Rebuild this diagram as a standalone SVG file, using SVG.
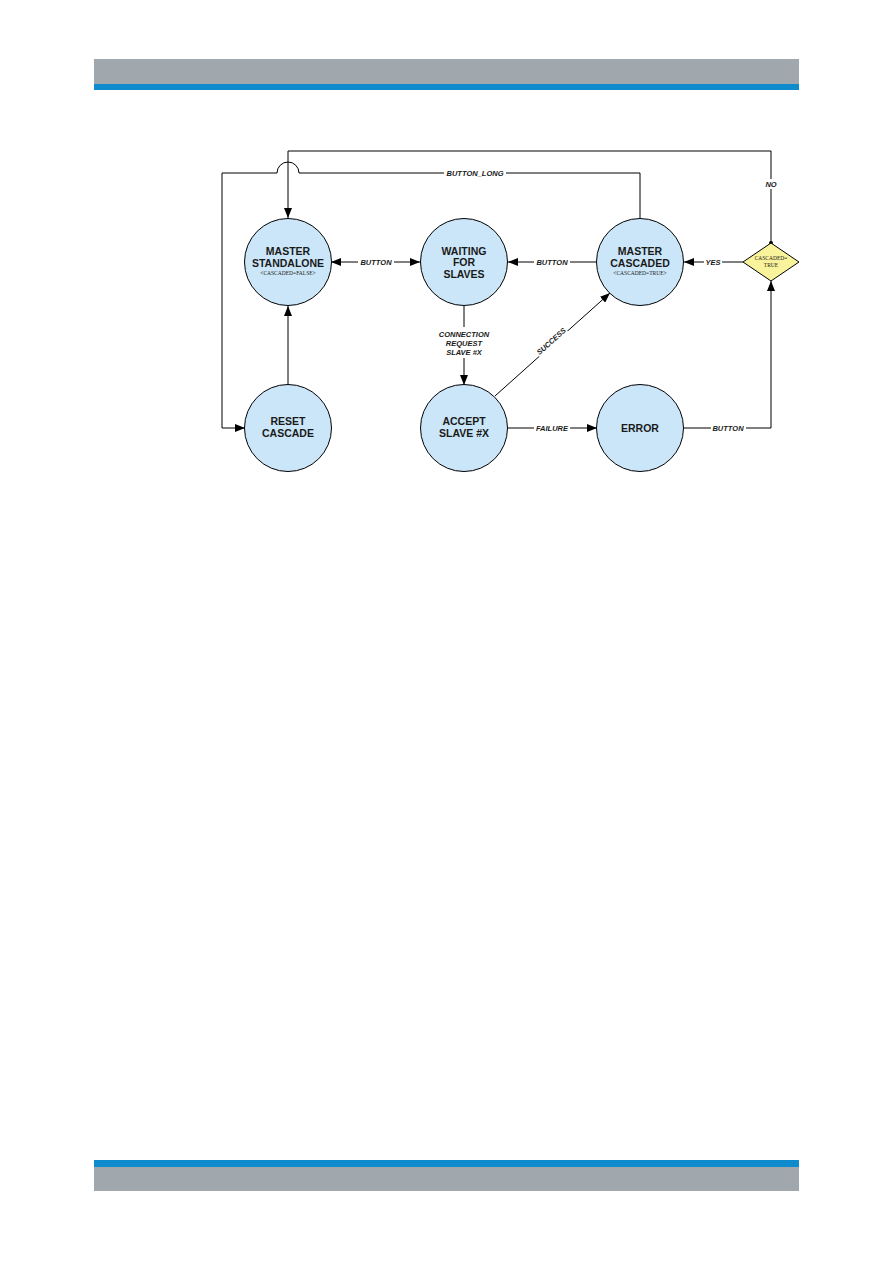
<svg xmlns="http://www.w3.org/2000/svg" width="893" height="1263" viewBox="0 0 893 1263">
<defs>
<marker id="arr" viewBox="0 0 10 8" refX="10" refY="4" markerWidth="10" markerHeight="8" markerUnits="userSpaceOnUse" orient="auto-start-reverse">
<path d="M0,0 L10,4 L0,8 z" fill="#000"/>
</marker>
<style>
.node{fill:#cbe6f8;stroke:#000;stroke-width:1}
.nt{font-family:"Liberation Sans",Arial,sans-serif;font-weight:bold;font-size:10.5px;text-anchor:middle;fill:#1a1a1a}
.sub{font-family:"Liberation Serif","Times New Roman",serif;font-size:5.5px;text-anchor:middle;fill:#1a1a1a}
.ln{fill:none;stroke:#000;stroke-width:1}
.lb{font-family:"Liberation Sans",Arial,sans-serif;font-weight:bold;font-style:italic;font-size:7.5px;text-anchor:middle;fill:#1a1a1a}
.bg{fill:#fff}
</style>
</defs>
<rect width="893" height="1263" fill="#fff"/>
<g id="header">
<rect x="94" y="59" width="705" height="25" fill="#a0a8ae"/>
<rect x="94" y="84" width="705" height="6" fill="#0d8bcc"/>
</g>
<g id="footer">
<rect x="94" y="1160" width="705" height="7" fill="#0d8bcc"/>
<rect x="94" y="1167" width="705" height="24" fill="#a0a8ae"/>
</g>
<g id="connectors">
<path class="ln" d="M771,243 V151 H288 V218" marker-end="url(#arr)"/>
<circle cx="771" cy="243" r="2" fill="#000"/>
<path class="ln" d="M640,218 V173 H299 A11,11 0 0 0 277,173 H222 V428 H245" marker-end="url(#arr)"/>
<path class="ln" d="M331,262 H420" marker-start="url(#arr)" marker-end="url(#arr)"/>
<path class="ln" d="M597,262 H508" marker-end="url(#arr)"/>
<path class="ln" d="M743,262 H684" marker-end="url(#arr)"/>
<path class="ln" d="M288,385 V306" marker-end="url(#arr)"/>
<path class="ln" d="M464,306 V385" marker-end="url(#arr)"/>
<path class="ln" d="M495,396 L610,293" marker-end="url(#arr)"/>
<path class="ln" d="M508,428 H597" marker-end="url(#arr)"/>
<path class="ln" d="M684,428 H771 V281" marker-end="url(#arr)"/>
<rect class="bg" x="444" y="168" width="62" height="10"/>
<text class="lb" x="475" y="176">BUTTON_LONG</text>
<rect class="bg" x="762" y="179" width="18" height="10"/>
<text class="lb" x="771" y="187">NO</text>
<rect class="bg" x="358" y="257" width="36" height="10"/>
<text class="lb" x="376" y="265">BUTTON</text>
<rect class="bg" x="534" y="257" width="36" height="10"/>
<text class="lb" x="552" y="265">BUTTON</text>
<rect class="bg" x="704" y="257" width="18" height="10"/>
<text class="lb" x="713" y="265">YES</text>
<rect class="bg" x="430" y="327" width="68" height="31"/>
<text class="lb" x="464" y="337">CONNECTION</text>
<text class="lb" x="464" y="346">REQUEST</text>
<text class="lb" x="464" y="355">SLAVE #X</text>
<g transform="translate(551,341) rotate(-42)">
<rect class="bg" x="-19" y="-5" width="38" height="10"/>
<text class="lb" x="0" y="3">SUCCESS</text>
</g>
<rect class="bg" x="534" y="423" width="36" height="10"/>
<text class="lb" x="552" y="431">FAILURE</text>
<rect class="bg" x="711" y="423" width="35" height="10"/>
<text class="lb" x="728" y="431">BUTTON</text>
</g>
<g id="master-standalone">
<circle class="node" cx="288" cy="262" r="43.5"/>
<text class="nt" x="288" y="255">MASTER</text>
<text class="nt" x="288" y="267">STANDALONE</text>
<text class="sub" x="288" y="275">&lt;CASCADED=FALSE&gt;</text>
</g>
<g id="waiting-for-slaves">
<circle class="node" cx="464" cy="262" r="43.5"/>
<text class="nt" x="464" y="255">WAITING</text>
<text class="nt" x="464" y="266">FOR</text>
<text class="nt" x="464" y="278">SLAVES</text>
</g>
<g id="master-cascaded">
<circle class="node" cx="640" cy="262" r="43.5"/>
<text class="nt" x="640" y="255">MASTER</text>
<text class="nt" x="640" y="267">CASCADED</text>
<text class="sub" x="640" y="275">&lt;CASCADED=TRUE&gt;</text>
</g>
<g id="cascaded-decision">
<polygon points="771,243 799,262 771,281 743,262" fill="#f9f39b" stroke="#000" stroke-width="1"/>
<text class="sub" x="771" y="260">CASCADED=</text>
<text class="sub" x="771" y="267">TRUE</text>
</g>
<g id="reset-cascade">
<circle class="node" cx="288" cy="428" r="43.5"/>
<text class="nt" x="288" y="425">RESET</text>
<text class="nt" x="288" y="437">CASCADE</text>
</g>
<g id="accept-slave">
<circle class="node" cx="464" cy="428" r="43.5"/>
<text class="nt" x="464" y="425">ACCEPT</text>
<text class="nt" x="464" y="437">SLAVE #X</text>
</g>
<g id="error">
<circle class="node" cx="640" cy="428" r="43.5"/>
<text class="nt" x="640" y="432">ERROR</text>
</g>
</svg>
